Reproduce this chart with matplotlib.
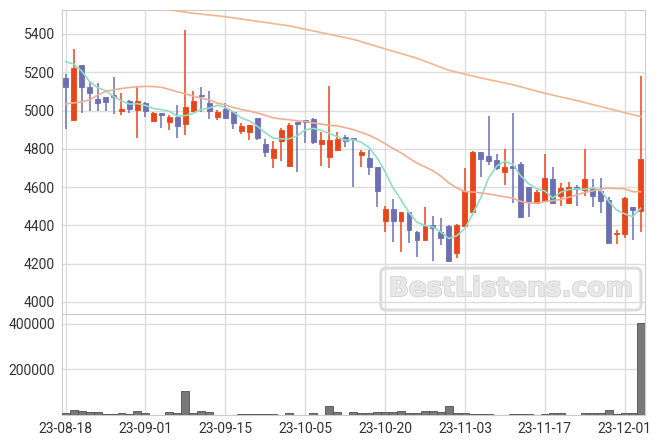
"""Daily candles with 5/20/120-day moving averages and a volume panel underneath."""

import matplotlib

matplotlib.use("Agg")
import matplotlib.patheffects as pe
import matplotlib.pyplot as plt
import numpy as np
import pandas as pd

# Korean market holidays inside the window (Chuseok, National Foundation, Hangul day).
HOLIDAYS = ["2023-09-28", "2023-09-29", "2023-10-02", "2023-10-03", "2023-10-09"]
DATES = pd.bdate_range("2023-08-18", "2023-12-05", freq="C", holidays=HOLIDAYS)

OPEN = [5170, 4950, 5238, 5125, 5060, 5070, 5080, 4998, 5050, 5003,
        5040, 4947, 4986, 4942, 4965, 4928, 5000, 5081, 5038, 4968,
        5008, 4991, 4893, 4890, 4960, 4825, 4754, 4843, 4712, 4937,
        4951, 4956, 4825, 4759, 4794, 4860, 4855, 4770, 4752, 4704,
        4425, 4484, 4425, 4470, 4366, 4326, 4400, 4367, 4397, 4258,
        4399, 4472, 4782, 4763, 4740, 4681, 4709, 4721, 4599, 4519,
        4529, 4643, 4556, 4516, 4601, 4585, 4589, 4578, 4533, 4354,
        4357, 4496, 4477]
HIGH = [5190, 5320, 5240, 5155, 5145, 5070, 5177, 5090, 5055, 5121,
        5045, 4993, 4986, 4977, 5029, 5421, 5102, 5121, 5102, 5003,
        5038, 4994, 4933, 4925, 4962, 4850, 4841, 4907, 4937, 4937,
        4952, 4960, 4890, 5128, 4890, 4872, 4856, 4794, 4794, 4705,
        4501, 4536, 4471, 4471, 4371, 4498, 4449, 4440, 4400, 4405,
        4698, 4790, 4783, 4972, 4772, 4798, 4986, 4733, 4600, 4585,
        4772, 4704, 4620, 4625, 4610, 4798, 4641, 4646, 4550, 4376,
        4546, 4497, 5181]
LOW = [4905, 4945, 4985, 4995, 5000, 5000, 4982, 4975, 4985, 4855,
       4965, 4940, 4907, 4898, 4855, 4872, 4994, 4994, 4955, 4951,
       4960, 4902, 4876, 4846, 4848, 4759, 4698, 4738, 4712, 4678,
       4832, 4824, 4712, 4702, 4790, 4811, 4599, 4704, 4663, 4495,
       4367, 4315, 4260, 4307, 4237, 4324, 4214, 4300, 4210, 4232,
       4398, 4470, 4651, 4716, 4690, 4611, 4516, 4446, 4446, 4519,
       4529, 4512, 4503, 4512, 4502, 4554, 4498, 4463, 4310, 4303,
       4333, 4324, 4367]
CLOSE = [5125, 5220, 5125, 5090, 5040, 5045, 5068, 5008, 5007, 5050,
         5000, 4986, 4978, 4965, 4921, 5017, 5050, 5077, 5000, 4991,
         4963, 4933, 4919, 4923, 4855, 4785, 4798, 4898, 4925, 4932,
         4940, 4838, 4846, 4846, 4851, 4843, 4850, 4784, 4704, 4582,
         4484, 4425, 4470, 4376, 4326, 4399, 4388, 4333, 4212, 4402,
         4581, 4782, 4747, 4738, 4702, 4705, 4702, 4446, 4529, 4575,
         4646, 4519, 4596, 4599, 4589, 4643, 4556, 4529, 4310, 4362,
         4545, 4482, 4747]
VOLUME = [10300, 20600, 16200, 11800, 11800, 2900, 2900, 7400, 2900, 16200,
          7400, 1500, 1500, 11800, 7400, 104600, 7400, 16200, 11800, 0,
          1500, 1500, 5900, 5900, 5900, 5900, 2900, 1500, 7400, 1500,
          1500, 7400, 1500, 38300, 11800, 1500, 11800, 10300, 10300, 14700,
          14700, 14700, 19200, 7400, 7400, 19200, 19200, 14700, 41300, 10300,
          10300, 5900, 5900, 5900, 0, 1500, 5900, 5900, 5900, 1500,
          5900, 10300, 10300, 1500, 1500, 10300, 10300, 10300, 23600, 5900,
          10300, 10300, 402000]

# Moving-average values before enough in-window closes exist.
MA5_HEAD = [5255, 5243, 5207, 5151]
MA20_HEAD = [5034, 5040, 5045, 5055, 5080, 5100, 5108, 5115, 5120, 5124,
             5126, 5125, 5121, 5110, 5098, 5087, 5075, 5064, 5055]
# Long moving average, read at every 4th session (it runs off the top before day 12).
MA_LONG_IDX = [12, 16, 20, 24, 28, 32, 36, 40, 44, 48, 52, 56, 60, 64, 68, 72]
MA_LONG = [5532, 5508, 5490, 5466, 5442, 5407, 5372, 5322, 5273, 5210,
           5170, 5135, 5090, 5052, 5010, 4968]

PRICE_TICKS = [4000, 4200, 4400, 4600, 4800, 5000, 5200, 5400]
VOLUME_TICKS = [200000, 400000]
TICK_EVERY = 10

UP = "#e8461a"
DOWN = "#6c70b2"
GRID = "#dddddd"
SPINE = "#cccccc"

plt.rcParams["font.family"] = ["Roboto", "DejaVu Sans"]

x = np.arange(len(DATES))
o, h, l, c = (np.array(a, dtype=float) for a in (OPEN, HIGH, LOW, CLOSE))
closes = pd.Series(c)
ma5 = closes.rolling(5).mean().to_numpy()
ma5[: len(MA5_HEAD)] = MA5_HEAD
ma20 = closes.rolling(20).mean().to_numpy()
ma20[: len(MA20_HEAD)] = MA20_HEAD

W, H = 663, 444
fig = plt.figure(figsize=(W / 100, H / 100), dpi=100)
left, right = 62 / W, 645 / W
ax = fig.add_axes([left, (H - 314) / H, right - left, (314 - 10) / H])
axv = fig.add_axes([left, (H - 415) / H, right - left, (415 - 314) / H], sharex=ax)

colors = np.where(c >= o, UP, DOWN)
ax.vlines(x, l, h, colors=colors, lw=1.1, zorder=3)
body = np.maximum(np.abs(c - o), 6)
ax.bar(x, body, bottom=np.minimum(o, c), width=0.62, color=colors,
       edgecolor=colors, lw=0.6, zorder=4)

ax.plot(x, ma5, color="#93dcc4", lw=1.2, zorder=5)
ax.plot(x, ma20, color="#efae93", lw=1.2, zorder=5)
ax.plot(MA_LONG_IDX, MA_LONG, color="#f2b68e", lw=1.2, zorder=5)

axv.bar(x, VOLUME, width=1.0, color="#787878", edgecolor="#505050", lw=0.6, zorder=3)

ax.text(0.77, 0.082, "BestListens.com", transform=ax.transAxes, ha="center", va="center",
        fontsize=19, fontweight="bold", family="DejaVu Sans", color="#e8e8e8", zorder=1,
        path_effects=[pe.withStroke(linewidth=1.4, foreground="#d6d6d6")],
        bbox=dict(boxstyle="round,pad=0.3,rounding_size=0.2", fc="none",
                  ec="#dcdcdc", lw=2.2))

ax.set_xlim(-0.45, 72.55)
ax.set_ylim(3937, 5525)
ax.set_yticks(PRICE_TICKS)
axv.set_ylim(0, 442000)
axv.set_yticks(VOLUME_TICKS)

ticks = x[::TICK_EVERY]
axv.set_xticks(ticks)
axv.set_xticklabels([DATES[i].strftime("%y-%m-%d") for i in ticks])
ax.tick_params(labelbottom=False)

for a in (ax, axv):
    a.grid(True, color=GRID, lw=1.0, zorder=0)
    a.set_axisbelow(True)
    a.tick_params(length=0, labelsize=10, labelcolor="#333333", pad=5)
    for s in a.spines.values():
        s.set_color(SPINE)

fig.savefig("out.png", dpi=100)
